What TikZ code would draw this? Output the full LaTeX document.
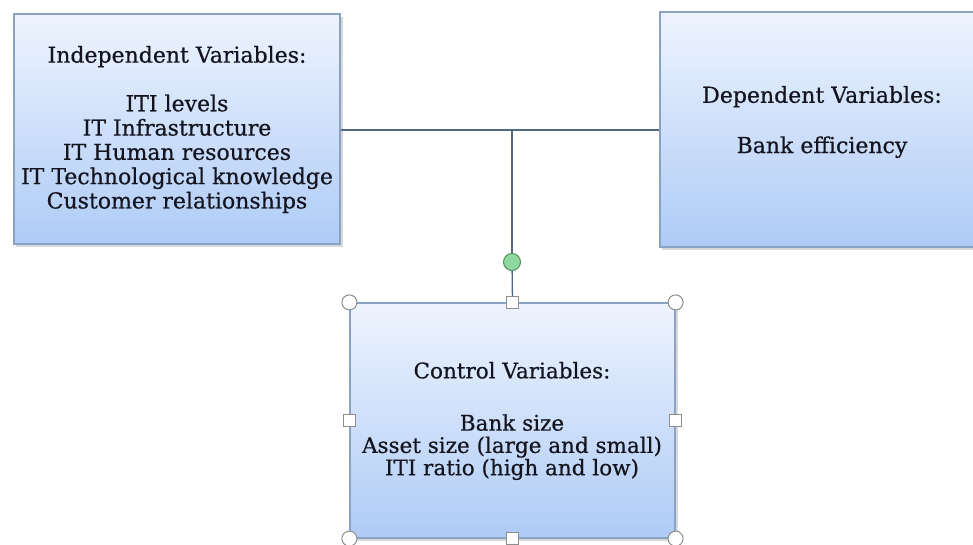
\documentclass[tikz,border=0pt]{standalone}
\usepackage{fontspec}
\setmainfont{DejaVu Serif}
\newfontfamily\boxfont{DejaVu Serif}[FakeBold=0.5]
\begin{document}
\begin{tikzpicture}[x=1pt,y=-1pt,
  varbox/.style={draw=boxedge, line width=1.2pt, top color=boxtop, bottom color=boxbot, rectangle, inner sep=0pt},
  boxtext/.style={align=center, font=\boxfont\fontsize{22}{24.3}\selectfont, text=txt},
  conn/.style={draw=connc, line width=1.3pt},
  rhandle/.style={circle, draw=handc, fill=white, line width=1pt, minimum size=15pt, inner sep=0pt},
  shandle/.style={rectangle, draw=handc, fill=white, line width=1pt, minimum size=12pt, inner sep=0pt},
  rothandle/.style={circle, draw=rotedge, fill=rotfill, line width=1pt, minimum size=17pt, inner sep=0pt}]
\definecolor{boxedge}{HTML}{8AA2C4}
\definecolor{boxtop}{HTML}{EEF4FE}
\definecolor{boxbot}{HTML}{AECBF6}
\definecolor{txt}{HTML}{14141F}
\definecolor{connc}{HTML}{4F6A85}
\definecolor{handc}{HTML}{8E8E8E}
\definecolor{rotedge}{HTML}{4F8F5E}
\definecolor{rotfill}{HTML}{8FD9A0}
\useasboundingbox (0,0) rectangle (973,545);
\fill[white] (0,0) rectangle (973,545);
\begin{scope}
\clip (0,0) rectangle (973,545);
% shadows
\fill[black!30, opacity=0.5] (16,17) rectangle (343,247);
\fill[black!30, opacity=0.5] (662,15) rectangle (990,250);
\fill[black!30, opacity=0.5] (352,306) rectangle (678,541);
% boxes
\node[varbox, minimum width=326pt, minimum height=230pt] (indep) at (177,129) {};
\node[varbox, minimum width=326pt, minimum height=235pt] (dep) at (823,129.5) {};
\node[varbox, minimum width=325pt, minimum height=235pt] (ctrl) at (512.5,420.5) {};
% texts
\node[boxtext] (indeptxt) at (177,129.5) {Independent Variables:\\[24.3pt]ITI levels\\IT Infrastructure\\IT Human resources\\IT Technological knowledge\\Customer relationships};
\node[boxtext] (deptxt) at (822,122) {Dependent Variables:\\[26pt]Bank efficiency};
\node[boxtext, font=\boxfont\fontsize{21.5}{22.3}\selectfont] (ctrltxt) at (512,421) {Control Variables:\\[30pt]Bank size\\Asset size (large and small)\\ITI ratio (high and low)};
% connectors
\coordinate (junc) at (512,130);
\draw[conn] (indep.east |- junc) -- (dep.west |- junc);
\node[rothandle] (rot) at (512,262) {};
\node[shandle] (hn) at (ctrl.north) {};
\draw[conn] (junc) -- (rot);
\draw[conn] (rot) -- (hn);
% selection handles
\node[rhandle] (hnw) at (ctrl.north west) {};
\node[rhandle] (hne) at (ctrl.north east) {};
\node[rhandle] (hsw) at (ctrl.south west) {};
\node[rhandle] (hse) at (ctrl.south east) {};
\node[shandle] (hw) at (ctrl.west) {};
\node[shandle] (he) at (ctrl.east) {};
\node[shandle] (hs) at (ctrl.south) {};
\end{scope}
\end{tikzpicture}
\end{document}
